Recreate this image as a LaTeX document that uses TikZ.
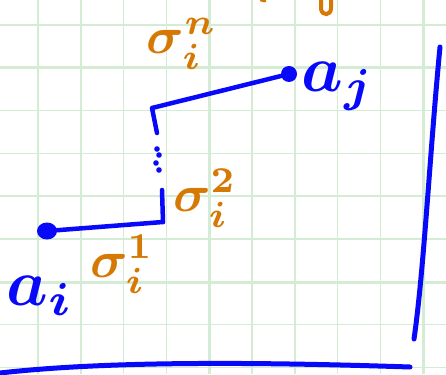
\documentclass[tikz,border=0pt]{standalone}
\usepackage{amsmath,amssymb}
\usepackage{graphicx}
\usepackage{tikz}
\usetikzlibrary{shapes.geometric,positioning,calc}
\definecolor{ink}{RGB}{8,8,250}
\definecolor{marker}{RGB}{214,120,4}
\definecolor{paper}{RGB}{212,235,212}
\newcommand{\bigpt}[1]{\scalebox{6.6}{\boldmath$#1$}}
\newcommand{\bigsig}[1]{\scalebox{5.2}{\boldmath$#1$}}

\begin{document}
\begin{tikzpicture}[
  x=1pt,y=-1pt,
  gridline/.style={draw=paper,line width=1.6pt},
  gridbold/.style={draw=paper,line width=3pt},
  edge/.style={draw=ink,line width=4.5pt,line cap=round,line join=round},
  dot/.style={ellipse,fill=ink,inner sep=0pt,minimum width=20pt,minimum height=17pt},
  pt/.style={color=ink,inner sep=0pt},
  sig/.style={color=marker,inner sep=0pt},
]
\useasboundingbox (0,0) rectangle (446,374);

% 网格
\fill[white] (0,0) rectangle (446,374);
\foreach \k in {0,...,9}
  \draw[gridline] ({38+42.8*\k},0) -- ++(0,374);
\foreach \k in {0,...,8}
  \draw[gridline] (0,{25+42.8*\k}) -- ++(446,0);
\draw[gridbold] (209,0) -- (209,374);
\draw[gridbold] (423,0) -- (423,374);
\draw[gridbold] (0,68) -- (446,68);
\draw[gridbold] (0,282) -- (446,282);

% 端点
\node[dot] (ai) at (47,231) {};
\node[dot,minimum width=16pt,minimum height=16pt] (aj) at (289,74) {};
\node[pt] (ailbl) at (40,296) {\bigpt{a_i}};
\node[pt] (ajlbl) at (338,86) {\bigpt{a_j}};

% 路径
\coordinate (m1) at (163,222);
\coordinate (m1top) at (162,190);
\coordinate (c2) at (152,108);
\coordinate (c2low) at (157,133);
\draw[edge] (ai) -- (m1);
\draw[edge] (m1) -- (m1top);
\draw[edge] (c2low) -- (c2) -- (aj);
\foreach \p in {(157,149),(159,155),(156,163),(159,170)}
  \fill[ink] \p circle (2.8);

% 标签
\node[sig] (s1) at (122,264) {\bigsig{\sigma_i^1}};
\node[sig] (s2) at (205,198) {\bigsig{\sigma_i^2}};
\node[sig] (sn) at (182,44) {\bigsig{\sigma_i^n}};

% 顶部残笔
\draw[marker,line width=4pt,line cap=round] (321,-2) -- (321,9) .. controls (322,16) and (331,16) .. (331,8) -- (331,-2);
\draw[marker,line width=3pt,line cap=round] (261,0) -- (265,1);

% 边框
\draw[ink,line width=5pt,line cap=round] (440,47) .. controls (430,150) and (424,270) .. (414,339);
\draw[ink,line width=5pt,line cap=round] (0,373) .. controls (80,364) and (200,360) .. (410,367);
\end{tikzpicture}
\end{document}
